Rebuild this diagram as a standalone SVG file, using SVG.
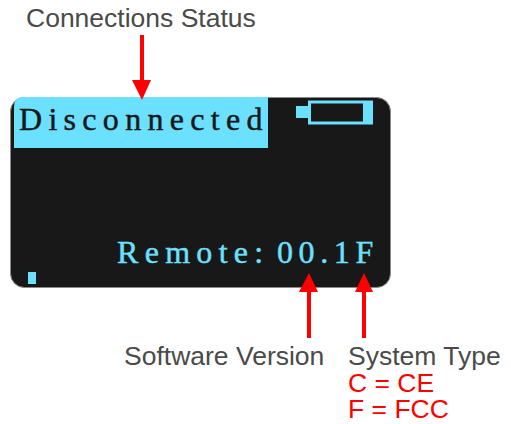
<svg xmlns="http://www.w3.org/2000/svg" width="511" height="424" viewBox="0 0 511 424">
<style>
.lab{font-family:"Liberation Sans",Arial,sans-serif;font-size:26.5px;fill:#4a4a4a}
.red{fill:#ff0000}
.lcd{font-family:"Liberation Serif","Times New Roman",serif;font-size:32px;stroke-width:.45}
.conn{stroke:#ff0000;stroke-width:4;fill:none}
.cy{fill:#6be0ff}
</style>
<g id="screen">
<rect x="10.500" y="97.500" width="380" height="190" rx="14" fill="#181818" stroke="#8a8a8a" stroke-width="1"/>
</g>
<g id="status">
<path class="cy" d="M14 148V106Q14 97 24 97H268V148Z"/>
<text class="lcd" x="19" y="130" fill="#181818" stroke="#181818" letter-spacing="6.3">Disconnected</text>
</g>
<g id="battery">
<rect class="cy" x="296" y="106" width="14" height="12"/>
<rect x="309.500" y="102" width="62" height="21" fill="none" stroke="#6be0ff" stroke-width="3"/>
<rect class="cy" x="363" y="101" width="9" height="23"/>
</g>
<g id="remote">
<text class="lcd" x="117" y="263" fill="#6be0ff" stroke="#6be0ff" letter-spacing="6.3">Remote:<tspan x="277" letter-spacing="5.6">00.1F</tspan></text>
</g>
<g id="cursor">
<rect class="cy" x="28" y="272" width="8" height="12"/>
</g>
<g id="connectors">
<line class="conn" x1="142" y1="35" x2="142" y2="80"/>
<polygon class="red" points="132,80 151,80 142,100"/>
<line class="conn" x1="309" y1="290" x2="309" y2="338"/>
<polygon class="red" points="299,292 318,292 309,273"/>
<line class="conn" x1="364" y1="290" x2="364" y2="338"/>
<polygon class="red" points="355,292 373,292 364,273"/>
</g>
<g id="label-connections"><text class="lab" x="26" y="27">Connections Status</text></g>
<g id="label-software"><text class="lab" x="124" y="365">Software Version</text></g>
<g id="label-system">
<text class="lab" x="348" y="365">System Type</text>
<text class="lab" x="348" y="392" style="fill:#ff0000">C = CE</text>
<text class="lab" x="348" y="418" style="fill:#ff0000">F = FCC</text>
</g>
</svg>
